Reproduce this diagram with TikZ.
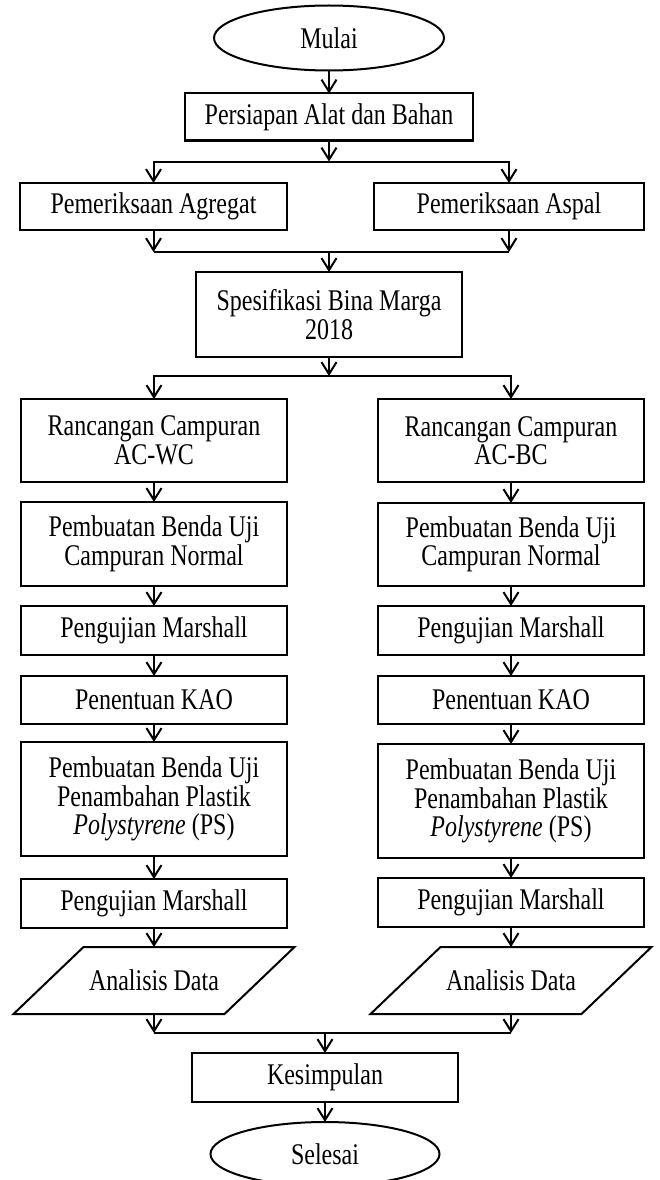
\documentclass[tikz,border=0pt]{standalone}
\usepackage{fontspec}
\setmainfont[FakeStretch=0.8]{Liberation Serif}
\usetikzlibrary{arrows.meta,calc,positioning,shapes.geometric}

\begin{document}
\begin{tikzpicture}[x=1pt,y=1pt,>={Straight Barb[length=12pt,width=15pt]},
  every node/.style={font=\fontsize{30}{28.5}\selectfont},
  box/.style={draw,line width=2pt,outer sep=0pt,align=center,inner sep=2pt,minimum width=266pt,minimum height=48pt},
  term/.style={draw,ellipse,line width=2pt,outer sep=0pt,minimum width=230pt,minimum height=65pt},
  io/.style={align=center,outer sep=0pt,inner sep=2pt,minimum width=211pt,minimum height=67pt},
  conn/.style={line width=2pt}]
  \useasboundingbox (0,0) rectangle (659,-1180);
  \node[term] (mulai) at (329,-38) {Mulai};
  \node[box,below=23pt of mulai,minimum width=288pt,minimum height=47pt] (alat) {Persiapan Alat dan Bahan};
  \node[box,minimum width=267pt,minimum height=47pt] (agregat) at (153.5,-206.5) {Pemeriksaan Agregat};
  \node[box,minimum width=270pt,minimum height=47pt] (aspal) at (509,-206.5) {Pemeriksaan Aspal};
  \node[box,minimum height=85pt] (spek) at (329,-314.5) {Spesifikasi Bina Marga\\2018};
  % kolom AC-WC
  \node[box,minimum height=83pt] (wc1) at (154,-440.5) {Rancangan Campuran\\AC-WC};
  \node[box,below=20pt of wc1,minimum height=84pt] (wc2) {Pembuatan Benda Uji\\Campuran Normal};
  \node[box,below=20pt of wc2,minimum height=49pt] (wc3) {Pengujian Marshall};
  \node[box,below=21pt of wc3] (wc4) {Penentuan KAO};
  \node[box,below=18pt of wc4,minimum height=114pt] (wc5) {Pembuatan Benda Uji\\Penambahan Plastik\\\textit{Polystyrene} (PS)};
  \node[box,below=23pt of wc5,minimum height=49pt] (wc6) {Pengujian Marshall};
  \node[io,below=19pt of wc6] (wc7) {Analisis Data};
  % kolom AC-BC
  \node[box,minimum height=83pt] (bc1) at (511,-440.5) {Rancangan Campuran\\AC-BC};
  \node[box,below=21pt of bc1,minimum height=83pt] (bc2) {Pembuatan Benda Uji\\Campuran Normal};
  \node[box,below=20pt of bc2,minimum height=49pt] (bc3) {Pengujian Marshall};
  \node[box,below=21pt of bc3] (bc4) {Penentuan KAO};
  \node[box,below=20pt of bc4,minimum height=114pt] (bc5) {Pembuatan Benda Uji\\Penambahan Plastik\\\textit{Polystyrene} (PS)};
  \node[box,below=20pt of bc5,minimum height=49pt] (bc6) {Pengujian Marshall};
  \node[io,below=20pt of bc6] (bc7) {Analisis Data};
  \node[box,minimum height=49pt] (kes) at (325,-1077.5) {Kesimpulan};
  \node[term,below=20pt of kes,minimum width=229pt,minimum height=64pt] (selesai) {Selesai};
  % jajaran genjang data
  \foreach \n in {wc7,bc7}
    \draw[conn] ($(\n.south west)+(-35,0)$) -- ($(\n.north west)+(35,0)$)
      -- ($(\n.north east)+(35,0)$) -- ($(\n.south east)+(-35,0)$) -- cycle;
  % titik cabang
  \coordinate[below=21pt of alat] (j1);
  \coordinate[above=20pt of spek] (j2);
  \coordinate[below=19pt of spek] (j3);
  \coordinate[above=20pt of kes] (j4);
  \draw[conn,->] (mulai) -- (alat);
  \draw[conn,->] (alat) -- (j1);
  \draw[conn,->] (j1) -| (agregat);
  \draw[conn,->] (j1) -| (aspal);
  \draw[conn,->] (agregat) -- (agregat |- j2);
  \draw[conn,->] (aspal) -- (aspal |- j2);
  \draw[conn] (agregat |- j2) -- (aspal |- j2);
  \draw[conn,->] (j2) -- (spek);
  \draw[conn,->] (spek) -- (j3);
  \draw[conn,->] (j3) -| (wc1);
  \draw[conn,->] (j3) -| (bc1);
  \foreach \a/\b in {1/2,2/3,3/4,4/5,5/6,6/7}{
    \draw[conn,->] (wc\a) -- (wc\b);
    \draw[conn,->] (bc\a) -- (bc\b);
  }
  \draw[conn,->] (wc7) -- (wc7 |- j4);
  \draw[conn,->] (bc7) -- (bc7 |- j4);
  \draw[conn] (wc7 |- j4) -- (bc7 |- j4);
  \draw[conn,->] (j4) -- (kes);
  \draw[conn,->] (kes) -- (selesai);
\end{tikzpicture}
\end{document}
